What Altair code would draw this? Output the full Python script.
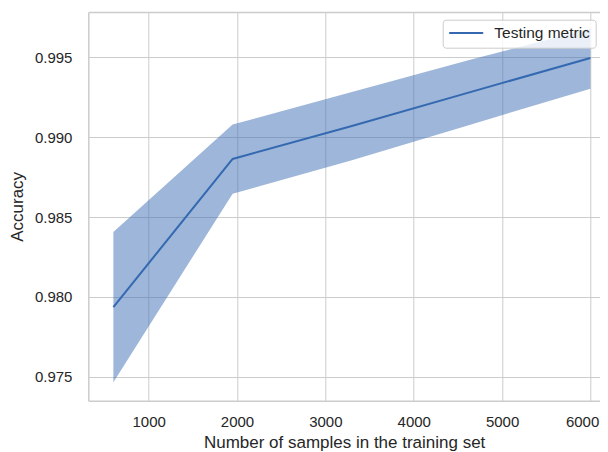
import altair as alt
import pandas as pd

# ---- data ----
train_sizes = [600, 1950, 3300, 4650, 6000]
test_mean = [0.97936, 0.98864, 0.99070, 0.99284, 0.99496]
test_lower = [0.97466, 0.98646, 0.98855, 0.99080, 0.99304]
test_upper = [0.98406, 0.99079, 0.99283, 0.99487, 0.99680]
series_name = ["Testing metric"] * len(train_sizes)
x_ticks = [1000, 2000, 3000, 4000, 5000, 6000]
y_ticks = [0.975, 0.980, 0.985, 0.990, 0.995]

df = pd.DataFrame({
    "size": train_sizes,
    "mean": test_mean,
    "lower": test_lower,
    "upper": test_upper,
    "series": series_name,
})

LINE = "#3469b1"
BAND = "#3b6db4"
TXT = "#262626"
GRID = "#cccccc"
FONT = "Liberation Sans"

x_scale = alt.Scale(domain=[316.3, 6108.7], nice=False, zero=False)
y_scale = alt.Scale(domain=[0.97350, 0.99784], nice=False, zero=False)

band = alt.Chart(df).mark_area(color=BAND, opacity=0.5).encode(
    x=alt.X("size:Q", scale=x_scale,
            axis=alt.Axis(values=x_ticks, format="d", grid=True,
                          title="Number of samples in the training set",
                          labelPadding=14, titlePadding=4.5,
                          labelAlign={"condition": {"test": "datum.value >= 6000", "value": "right"},
                                      "value": "center"},
                          labelOffset={"condition": {"test": "datum.value >= 6000", "value": 8.4},
                                       "value": 0})),
    y=alt.Y("lower:Q", scale=y_scale, title="Accuracy",
            axis=alt.Axis(values=y_ticks, format=".3f", grid=True,
                          labelPadding=16.4, titlePadding=7.5)),
    y2="upper:Q",
)

line = alt.Chart(df).mark_line(strokeWidth=2).encode(
    x=alt.X("size:Q", scale=x_scale,
            axis=alt.Axis(orient="top", labels=False, ticks=False, grid=False,
                          domain=True, title=None)),
    y=alt.Y("mean:Q", scale=y_scale, title="Accuracy"),
    color=alt.Color(
        "series:N",
        scale=alt.Scale(domain=["Testing metric"], range=[LINE]),
        legend=alt.Legend(
            title=None, orient="none", legendX=354.4, legendY=7.7,
            symbolType="stroke", symbolSize=1156, symbolStrokeWidth=2,
            clipHeight=15.6,
            labelFontSize=15.5, labelFont=FONT, labelColor=TXT, labelOffset=10.1,
            padding=5.5, strokeColor=GRID, fillColor="rgba(255,255,255,0.8)",
            cornerRadius=3,
        ),
    ),
)

chart = (
    alt.layer(band, line)
    .resolve_axis(x="independent")
    .properties(
        width=511.7,
        height=388.7,
        autosize=alt.AutoSizeParams(type="none"),
        padding={"left": 80.3, "top": 4, "right": 0, "bottom": 50.5},
        background="white",
    )
    .configure_view(strokeWidth=0)
    .configure_axis(
        labelFont=FONT, titleFont=FONT,
        labelFontSize=15, titleFontSize=17, titleFontWeight="normal",
        labelColor=TXT, titleColor=TXT,
        gridColor=GRID, gridWidth=1, gridOpacity=1,
        domainColor=GRID, domainWidth=1.5,
        ticks=False,
    )
)

chart.save("out.html", embed_options={"renderer": "svg", "actions": False})
